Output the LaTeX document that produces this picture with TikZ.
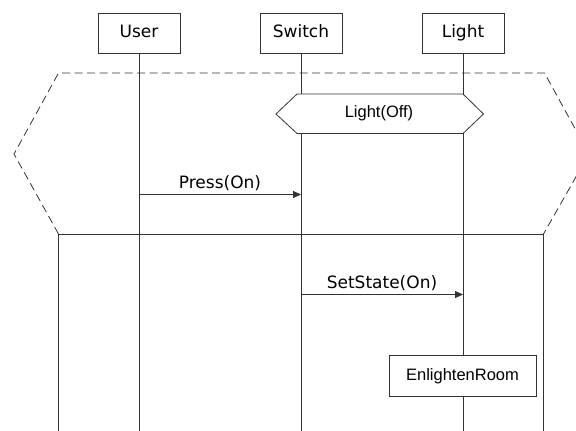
\documentclass[tikz,border=0pt]{standalone}
\usepackage{fontspec}
\setmainfont{DejaVu Sans}
\newfontfamily\arialfont{Liberation Sans}
\usetikzlibrary{arrows.meta}
\definecolor{linec}{HTML}{333333}
\begin{document}
\begin{tikzpicture}[x=1pt,y=-1pt,
  actor/.style={draw=linec, line width=0.8pt, fill=white, minimum width=82pt, minimum height=40pt, inner sep=0pt, text height=12.8pt, text depth=4pt, font=\fontsize{17}{20}\selectfont},
  lifeline/.style={draw=linec, line width=0.8pt},
  frame/.style={draw=linec, line width=0.8pt},
  dashedframe/.style={draw=linec, line width=0.8pt, dash pattern=on 8pt off 4.5pt},
  condbox/.style={draw=linec, line width=0.8pt, fill=white},
  msg/.style={draw=linec, line width=0.8pt, -{Triangle[length=8pt,width=7pt]}},
  msglabel/.style={font=\fontsize{17}{20}\selectfont, above, inner sep=1pt, yshift=2pt},
  statebox/.style={draw=linec, line width=0.8pt, fill=white, minimum width=147pt, minimum height=41pt, inner sep=0pt, font=\arialfont\fontsize{16.5}{19}\selectfont},
  condtext/.style={inner sep=0pt, font=\arialfont\fontsize{16.5}{19}\selectfont}
]
\useasboundingbox (0,0) rectangle (576,431);
\clip (0,0) rectangle (576,431);

% actors
\node[actor] (user) at (139,33.3) {User};
\node[actor] (switch) at (301,33.3) {Switch};
\node[actor] (light) at (463,33.3) {Light};

% bottom ends of lifelines
\coordinate (userend) at (139,440);
\coordinate (switchend) at (301,440);
\coordinate (lightend) at (463,440);

% dashed alternative frame and solid frame
\coordinate (tl) at (58.5,73);
\coordinate (tr) at (544.5,73);
\coordinate (lp) at (14,154);
\coordinate (rp) at (589,154);
\coordinate (bl) at (58.5,234);
\coordinate (br) at (543.5,234);
\coordinate (bbl) at (58.5,440);
\coordinate (bbr) at (543.5,440);
\draw[dashedframe] (bl) -- (lp) -- (tl) -- (tr) -- (rp) -- (br);
\draw[frame] (bbl) -- (bl) -- (br) -- (bbr);

% lifelines
\draw[lifeline] (user.south) -- (userend);
\draw[lifeline] (switch.south) -- (switchend);
\draw[lifeline] (light.south) -- (lightend);

% condition Light(Off)
\filldraw[condbox] (276,114) -- (297,94) -- (463,94) -- (483.5,114) -- (463,133.5) -- (297,133.5) -- cycle;
\node[condtext] (lightoff) at (379,113) {Light(Off)};

% messages
\coordinate (p1) at (139,194.5);
\coordinate (p2) at (301,194.5);
\draw[msg] (p1) -- (p2) node[msglabel, midway] (press) {Press(On)};
\coordinate (s1) at (301,294.5);
\coordinate (s2) at (463,294.5);
\draw[msg] (s1) -- (s2) node[msglabel, midway] (setstate) {SetState(On)};

% state
\node[statebox] (enlighten) at (462.5,376.2) {EnlightenRoom};
\end{tikzpicture}
\end{document}
